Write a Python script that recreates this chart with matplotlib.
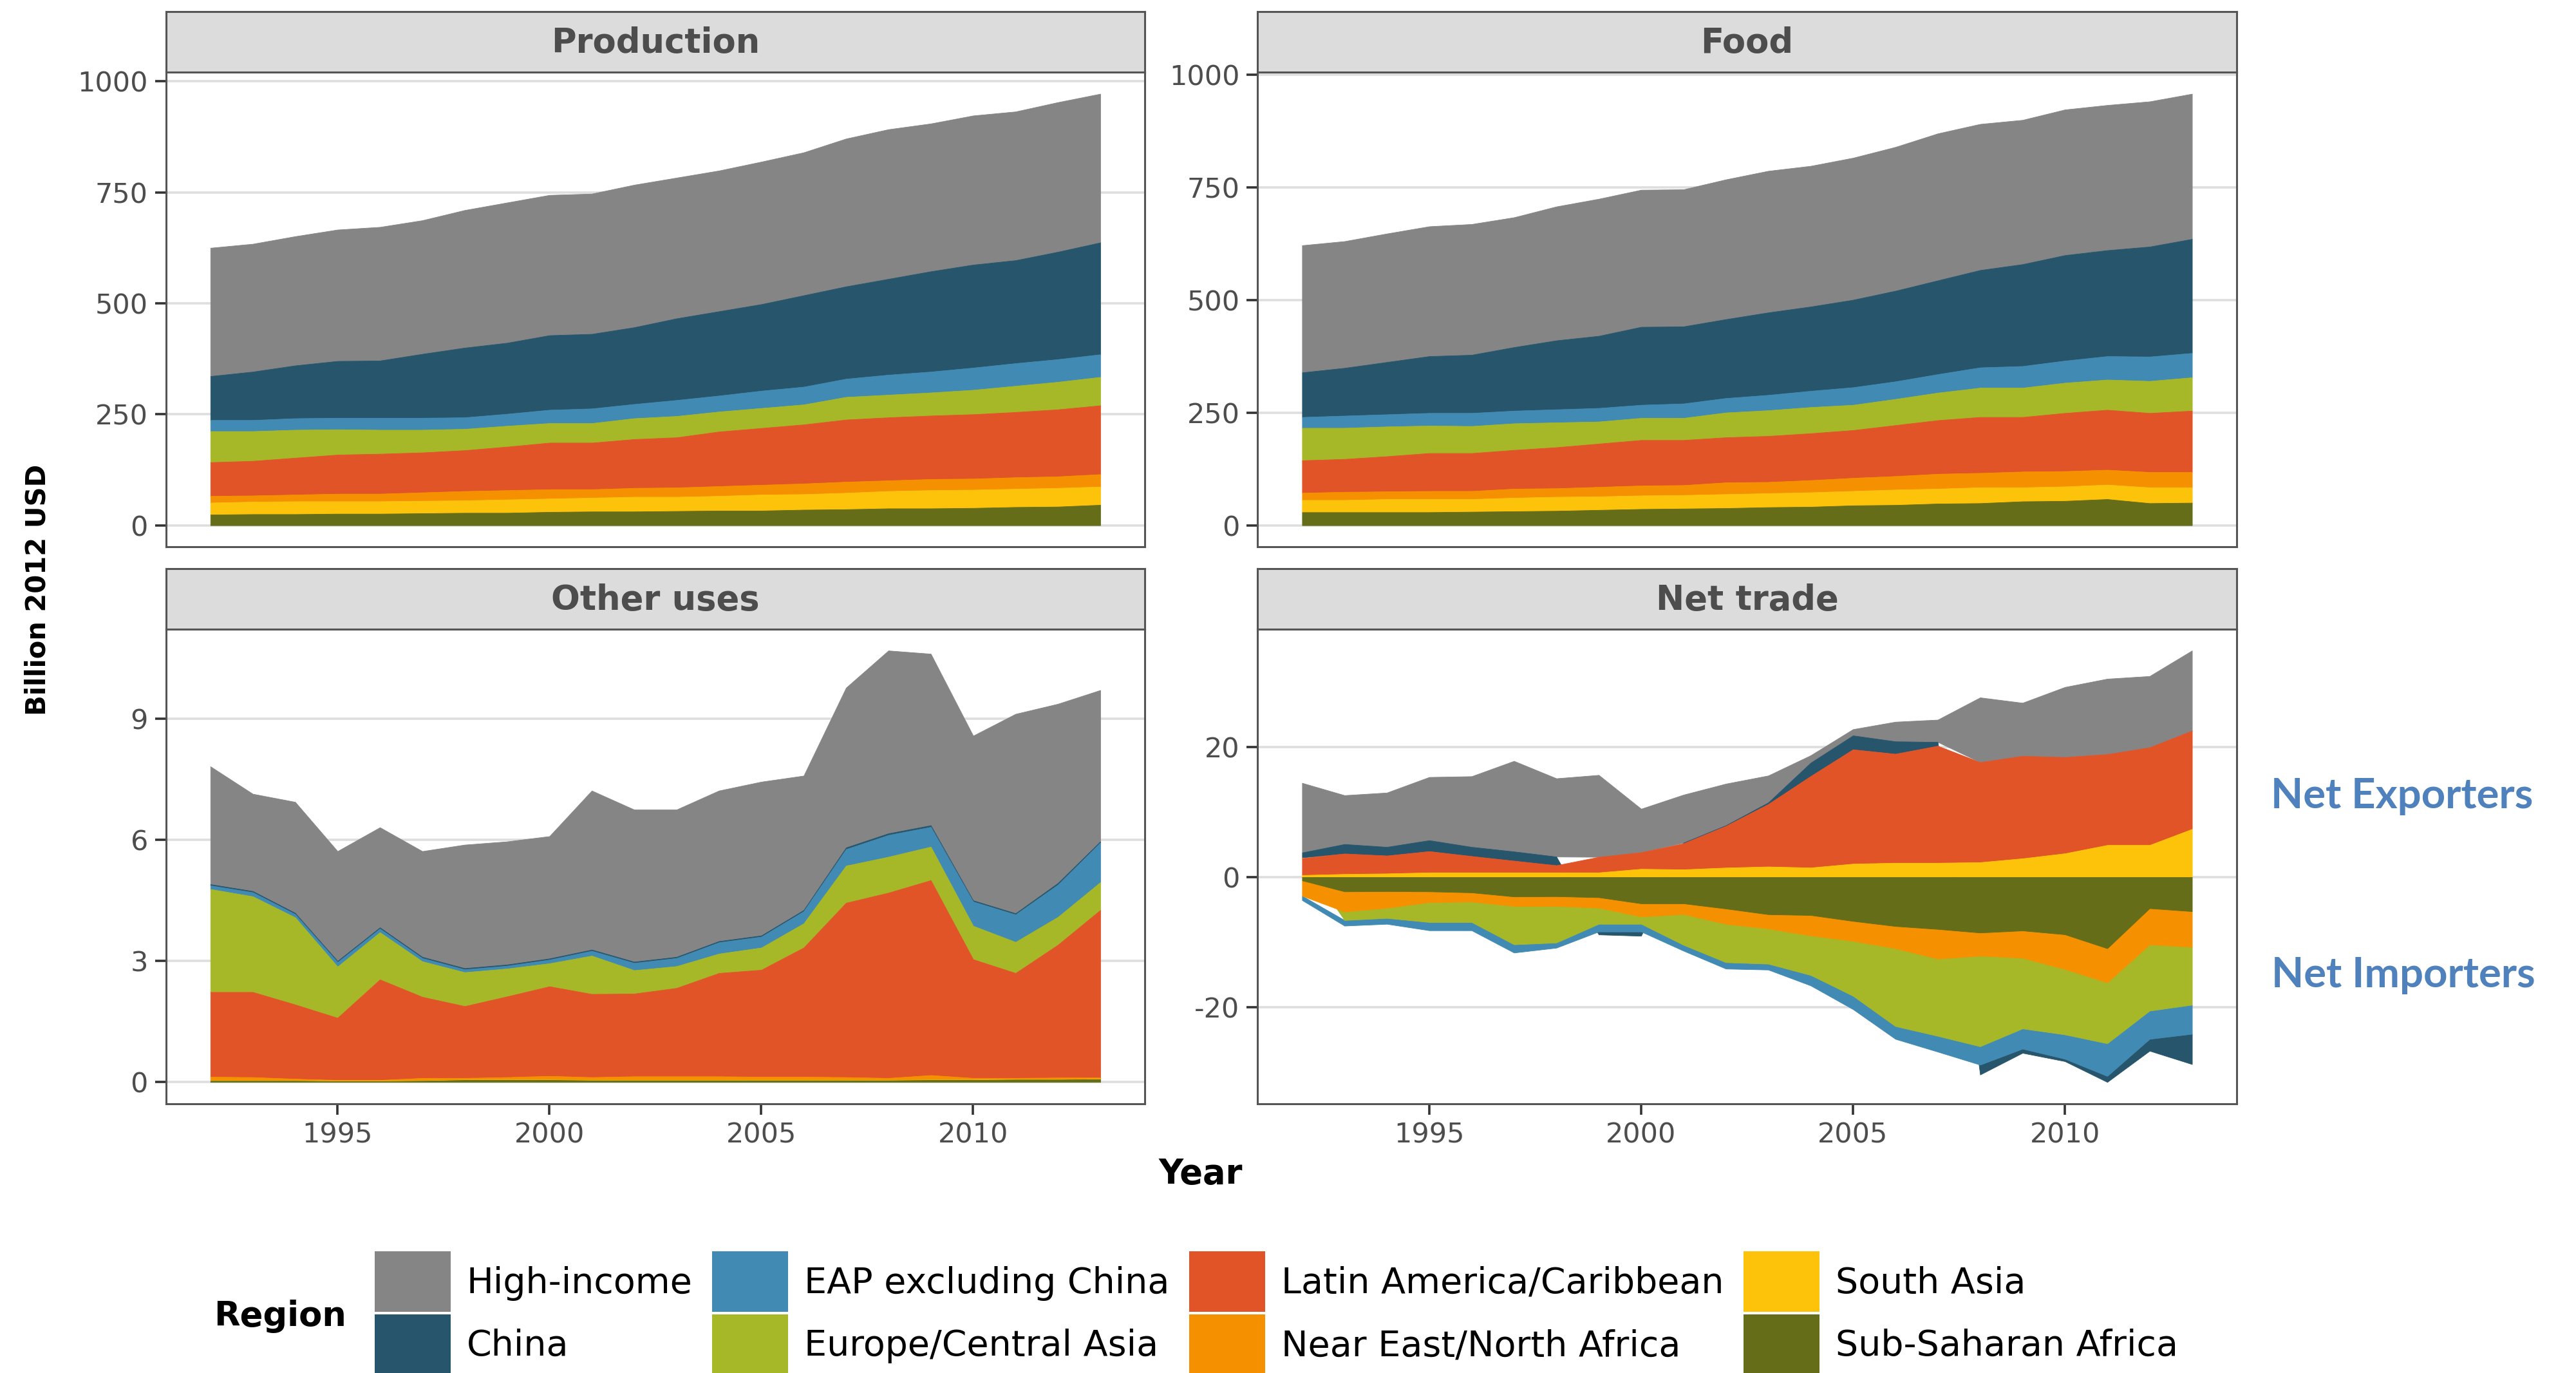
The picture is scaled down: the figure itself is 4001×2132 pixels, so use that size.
import matplotlib
matplotlib.use("Agg")
import matplotlib.pyplot as plt
import numpy as np
from matplotlib.patches import Patch

plt.rcParams['font.family'] = ['DejaVu Sans']

years = [1992, 1993, 1994, 1995, 1996, 1997, 1998, 1999, 2000, 2001, 2002,
         2003, 2004, 2005, 2006, 2007, 2008, 2009, 2010, 2011, 2012, 2013]

regions = ["High-income", "China", "EAP excluding China", "Europe/Central Asia",
           "Latin America/Caribbean", "Near East/North Africa", "South Asia",
           "Sub-Saharan Africa"]
region_colors = ["#858585", "#27556C", "#418AB3", "#A6B727",
                 "#E05428", "#F59100", "#FDC20A", "#656D18"]

facet_titles = ["Production", "Food", "Other uses", "Net trade"]
x_ticks = [1995, 2000, 2005, 2010]
y_ticks = [[0, 250, 500, 750, 1000], [0, 250, 500, 750, 1000], [0, 3, 6, 9], [-20, 0, 20]]

# ---- Production (billion 2012 USD) ----
prod_hi = [289, 288, 291, 296, 301, 301, 310, 316, 316, 316, 321, 317, 317, 321, 322, 333, 337, 333, 336, 335, 337, 335]
prod_china = [99, 109, 119, 128, 129, 144, 157, 160, 168, 168, 173, 184, 190, 195, 206, 208, 216, 226, 232, 232, 242, 252]
prod_eap = [25, 25, 26, 26, 27, 27, 26, 27, 30, 33, 32, 36, 36, 39, 40, 41, 45, 47, 50, 51, 51, 51]
prod_eca = [70, 67, 63, 57, 54, 51, 48, 47, 44, 44, 47, 48, 45, 45, 45, 51, 51, 52, 55, 59, 62, 64]
prod_lac = [76, 78, 83, 88, 90, 90, 92, 98, 105, 105, 110, 113, 123, 128, 133, 140, 142, 143, 145, 147, 151, 155]
prod_nena = [15, 14, 15, 17, 17, 19, 21, 21, 21, 19, 20, 21, 22, 22, 24, 25, 24, 25, 25, 26, 26, 28]
prod_sa = [27, 28, 29, 28, 28, 28, 28, 30, 30, 31, 33, 32, 33, 36, 35, 37, 39, 41, 41, 41, 42, 41]
prod_ssa = [24, 25, 25, 26, 26, 27, 28, 28, 30, 31, 31, 32, 33, 33, 35, 36, 38, 38, 39, 41, 42, 46]

# ---- Food ----
food_hi = [282, 281, 285, 288, 290, 288, 297, 304, 304, 304, 310, 314, 312, 315, 319, 326, 324, 320, 323, 322, 322, 322]
food_china = [99, 106, 116, 126, 129, 141, 153, 160, 173, 171, 175, 183, 187, 194, 201, 208, 216, 226, 234, 235, 244, 253]
food_eap = [24, 27, 27, 28, 29, 28, 29, 30, 29, 32, 32, 34, 36, 39, 39, 41, 45, 48, 49, 52, 54, 54]
food_eca = [72, 69, 66, 61, 60, 59, 55, 49, 49, 49, 55, 57, 58, 56, 58, 61, 65, 65, 67, 67, 71, 74]
food_lac = [72, 73, 78, 84, 84, 86, 91, 96, 101, 100, 100, 102, 104, 106, 113, 119, 124, 121, 129, 133, 131, 136]
food_nena = [16, 18, 17, 18, 18, 20, 19, 21, 22, 22, 26, 25, 27, 29, 30, 33, 32, 35, 34, 33, 34, 34]
food_sa = [27, 27, 29, 29, 28, 30, 31, 30, 30, 30, 31, 31, 32, 32, 34, 33, 35, 31, 32, 32, 35, 34]
food_ssa = [29, 29, 29, 29, 30, 31, 32, 34, 36, 37, 38, 40, 41, 44, 45, 48, 49, 53, 54, 58, 49, 50]

# ---- Other uses ----
oth_hi = [2.92, 2.41, 2.75, 2.72, 2.48, 2.62, 3.06, 3.05, 3.03, 3.94, 3.77, 3.65, 3.73, 3.81, 3.33, 3.96, 4.53, 4.25, 4.08, 4.94, 4.44, 3.75]
oth_china = [0.03, 0.03, 0.03, 0.03, 0.03, 0.03, 0.03, 0.03, 0.03, 0.03, 0.03, 0.03, 0.03, 0.03, 0.03, 0.04, 0.04, 0.04, 0.03, 0.03, 0.04, 0.03]
oth_eap = [0.09, 0.10, 0.08, 0.11, 0.09, 0.08, 0.07, 0.07, 0.09, 0.12, 0.18, 0.20, 0.28, 0.27, 0.30, 0.41, 0.54, 0.49, 0.60, 0.68, 0.80, 0.98]
oth_eca = [2.55, 2.37, 2.16, 1.27, 1.17, 0.88, 0.84, 0.69, 0.57, 0.95, 0.58, 0.54, 0.48, 0.55, 0.60, 0.92, 0.89, 0.83, 0.83, 0.77, 0.69, 0.69]
oth_lac = [2.10, 2.11, 1.84, 1.54, 2.49, 2.01, 1.78, 2.00, 2.22, 2.06, 2.05, 2.19, 2.56, 2.65, 3.20, 4.32, 4.59, 4.83, 2.94, 2.60, 3.29, 4.15]
oth_nena = [0.09, 0.08, 0.04, 0.02, 0.02, 0.06, 0.04, 0.06, 0.09, 0.07, 0.09, 0.09, 0.09, 0.08, 0.08, 0.07, 0.05, 0.11, 0.04, 0.03, 0.04, 0.03]
oth_sa = [0.01, 0.01, 0.01, 0.01, 0.01, 0.01, 0.01, 0.01, 0.01, 0.01, 0.01, 0.01, 0.01, 0.01, 0.01, 0.01, 0.01, 0.01, 0.01, 0.01, 0.01, 0.01]
oth_ssa = [0.03, 0.03, 0.03, 0.02, 0.02, 0.03, 0.05, 0.05, 0.05, 0.04, 0.04, 0.04, 0.04, 0.04, 0.04, 0.04, 0.04, 0.05, 0.05, 0.06, 0.06, 0.07]

# ---- Net trade ----
net_hi = [10.68, 7.50, 8.33, 9.70, 10.84, 13.89, 12.01, 12.57, 6.67, 7.36, 6.38, 4.13, 1.14, 0.96, 3.01, 3.42, 9.93, 8.15, 10.75, 11.57, 10.93, 12.30]
net_china = [0.76, 1.45, 1.33, 1.68, 1.41, 1.42, 1.33, -0.45, -0.65, 0.10, 0.10, 0.25, 2.05, 2.14, 1.91, 0.59, -1.51, -0.64, -0.37, -0.92, -1.82, -4.65]
net_eap = [-0.67, -0.86, -0.90, -1.26, -1.26, -1.26, -0.79, -1.18, -1.18, -0.90, -0.98, -0.90, -1.60, -2.05, -1.96, -2.42, -2.82, -3.10, -3.73, -5.01, -4.33, -4.46]
net_eca = [0.10, -1.30, -1.57, -3.06, -3.14, -5.89, -5.61, -2.47, -1.13, -4.71, -5.89, -5.40, -6.06, -8.43, -11.94, -11.84, -13.90, -10.84, -10.03, -9.34, -10.16, -8.88]
net_lac = [2.60, 3.14, 2.75, 3.26, 2.51, 1.80, 1.10, 2.39, 2.55, 4.00, 6.40, 9.58, 14.03, 17.54, 16.72, 17.95, 15.35, 15.72, 14.77, 13.94, 14.99, 15.08]
net_nena = [-2.36, -3.10, -2.55, -1.65, -1.41, -1.46, -1.50, -1.61, -2.01, -1.65, -2.35, -2.19, -3.14, -3.05, -3.41, -4.56, -3.55, -4.19, -5.33, -5.24, -5.56, -5.47]
net_sa = [0.31, 0.47, 0.55, 0.71, 0.71, 0.71, 0.71, 0.71, 1.26, 1.18, 1.45, 1.62, 1.46, 2.05, 2.19, 2.19, 2.28, 2.87, 3.64, 4.92, 4.92, 7.38]
net_ssa = [-0.51, -2.20, -2.16, -2.20, -2.36, -2.98, -2.94, -3.10, -4.04, -4.04, -4.83, -5.71, -5.83, -6.74, -7.52, -7.97, -8.52, -8.20, -8.79, -10.93, -4.78, -5.24]

panel_series = [
    [prod_hi, prod_china, prod_eap, prod_eca, prod_lac, prod_nena, prod_sa, prod_ssa],
    [food_hi, food_china, food_eap, food_eca, food_lac, food_nena, food_sa, food_ssa],
    [oth_hi, oth_china, oth_eap, oth_eca, oth_lac, oth_nena, oth_sa, oth_ssa],
    [net_hi, net_china, net_eap, net_eca, net_lac, net_nena, net_sa, net_ssa],
]


def stack_bounds(series):
    """ggplot-like stacking: last level at the bottom, positives and negatives separately."""
    n = len(years)
    pos = np.zeros(n)
    neg = np.zeros(n)
    bounds = [None] * len(series)
    for i in reversed(range(len(series))):
        v = np.asarray(series[i], dtype=float)
        is_pos = v >= 0
        lo = np.where(is_pos, pos, neg + v)
        hi = np.where(is_pos, pos + v, neg)
        pos = np.where(is_pos, pos + v, pos)
        neg = np.where(is_pos, neg, neg + v)
        bounds[i] = (lo, hi)
    return bounds


fig = plt.figure(figsize=(40.01, 21.32), dpi=100)

W = 0.3800
left_x = [0.0644, 0.4882]
plot_h = 0.3457
plot_bottom = [0.6017, 0.1962]
strip_h = 0.0440

tick_color = "#4D4D4D"
border_color = "#555555"
grid_color = "#DEDEDE"
xs = np.asarray(years, dtype=float)

for p in range(4):
    col = p % 2
    row = p // 2
    x0 = left_x[col]
    y0 = plot_bottom[row]
    ax = fig.add_axes([x0, y0, W, plot_h])
    bnds = stack_bounds(panel_series[p])
    for i in range(len(regions)):
        lo, hi = bnds[i]
        ax.fill_between(xs, lo, hi, color=region_colors[i], linewidth=0.6,
                        edgecolor=region_colors[i], zorder=2)
    allv = np.concatenate([np.concatenate(b) for b in bnds])
    ymin, ymax = allv.min(), allv.max()
    r = ymax - ymin
    ax.set_ylim(ymin - 0.05 * r, ymax + 0.05 * r)
    ax.set_xlim(years[0] - 0.05 * (years[-1] - years[0]), years[-1] + 0.05 * (years[-1] - years[0]))
    ax.set_yticks(y_ticks[p])
    ax.set_yticklabels([str(t) for t in y_ticks[p]])
    ax.set_axisbelow(True)
    ax.yaxis.grid(True, color=grid_color, linewidth=2.6)
    ax.xaxis.grid(False)
    for s in ax.spines.values():
        s.set_color(border_color)
        s.set_linewidth(2.2)
        s.set_zorder(5)
    ax.tick_params(axis="y", direction="out", length=12, width=2.6, color="#333333",
                   labelsize=31, labelcolor=tick_color, pad=8)
    if row == 1:
        ax.set_xticks(x_ticks)
        ax.set_xticklabels([str(t) for t in x_ticks])
        ax.tick_params(axis="x", direction="out", length=12, width=2.6, color="#333333",
                       labelsize=31, labelcolor=tick_color, pad=8)
    else:
        ax.set_xticks([])
    # facet strip
    sax = fig.add_axes([x0, y0 + plot_h, W, strip_h])
    sax.set_facecolor("#DCDCDC")
    sax.set_xticks([])
    sax.set_yticks([])
    for s in sax.spines.values():
        s.set_color(border_color)
        s.set_linewidth(2.2)
    sax.text(0.5, 0.48, facet_titles[p], ha="center", va="center", fontsize=38,
             fontweight="bold", color="#4D4D4D", transform=sax.transAxes)

# axis titles
fig.text(0.0145, 0.5705, "Billion 2012 USD", rotation=90, ha="center", va="center",
         fontsize=30, fontweight="bold", color="black")
fig.text(0.4661, 0.1447, "Year", ha="center", va="center", fontsize=38,
         fontweight="bold", color="black")

# annotations
fig.text(0.9325, 0.4200, "Net Exporters", ha="center", va="center", fontsize=47,
         fontweight="bold", color="#4F81BD", family=["Lato", "DejaVu Sans"])
fig.text(0.9330, 0.2895, "Net Importers", ha="center", va="center", fontsize=47,
         fontweight="bold", color="#4F81BD", family=["Lato", "DejaVu Sans"])

# legend
handles = [Patch(facecolor=c, edgecolor="none") for c in region_colors]
fig.legend(handles, regions, ncol=4, loc="upper left", bbox_to_anchor=(0.1455, 0.0885),
           frameon=False, fontsize=40, handlelength=2.12, handleheight=2.23,
           handletextpad=0.45, columnspacing=0.55, labelspacing=0.06,
           borderpad=0.0, borderaxespad=0.0)
fig.text(0.0830, 0.0415, "Region", ha="left", va="center", fontsize=38,
         fontweight="bold", color="black")

fig.savefig("out.png", dpi=100, facecolor="white")
